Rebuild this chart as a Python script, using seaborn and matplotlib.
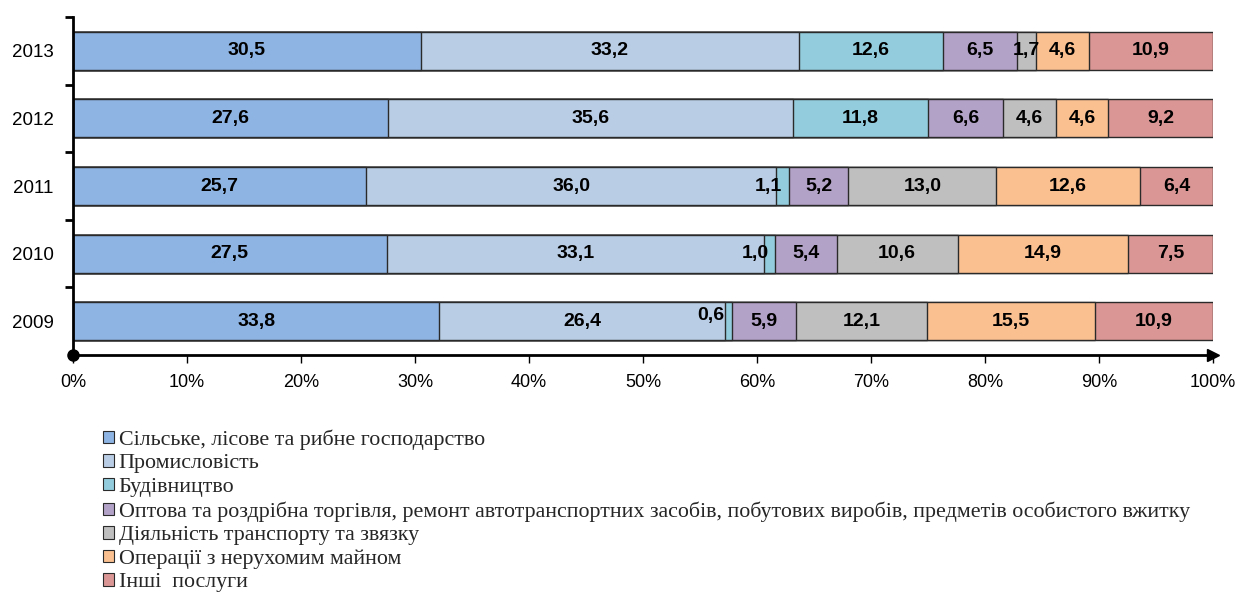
import numpy as np
import pandas as pd
import matplotlib
matplotlib.use("Agg")
import matplotlib.pyplot as plt
import seaborn as sns
from matplotlib.ticker import FixedLocator, PercentFormatter

years = ["2013", "2012", "2011", "2010", "2009"]
categories = [
    "Сільське, лісове та рибне господарство",
    "Промисловість",
    "Будівництво",
    "Оптова та роздрібна торгівля, ремонт автотранспортних засобів, побутових виробів, предметів особистого вжитку",
    "Діяльність транспорту та звязку",
    "Операції з нерухомим майном",
    "Інші  послуги",
]
agriculture = [30.5, 27.6, 25.7, 27.5, 33.8]
industry = [33.2, 35.6, 36.0, 33.1, 26.4]
construction = [12.6, 11.8, 1.1, 1.0, 0.6]
trade = [6.5, 6.6, 5.2, 5.4, 5.9]
transport = [1.7, 4.6, 13.0, 10.6, 12.1]
real_estate = [4.6, 4.6, 12.6, 14.9, 15.5]
other = [10.9, 9.2, 6.4, 7.5, 10.9]
series = [agriculture, industry, construction, trade, transport, real_estate, other]
colors = ["#8EB4E3", "#B9CDE5", "#93CDDD", "#B3A2C7", "#BFBFBF", "#FAC090", "#D99694"]

sns.set_theme(style="white")
plt.rcParams["font.family"] = ["Liberation Sans", "DejaVu Sans"]

vals = np.array(series, dtype=float)          # shape (cat, year)
totals = vals.sum(axis=0)
shares = vals / totals                          # 100% stacked
cum = np.cumsum(shares, axis=0)

fig = plt.figure(figsize=(12.4, 5.98), dpi=100)
ax = fig.add_axes([73 / 1240, 1 - 355 / 598, (1213 - 73) / 1240, (355 - 17) / 598])

# draw cumulative bars from the last category to the first
for i in range(len(categories) - 1, -1, -1):
    df = pd.DataFrame({"year": years, "cum": cum[i]})
    sns.barplot(data=df, x="cum", y="year", order=years, orient="h",
                color=colors[i], saturation=1, width=0.56,
                edgecolor="#2a2a2a", linewidth=1.0, ax=ax, label=categories[i])

if ax.get_legend() is not None:
    ax.get_legend().remove()

# value labels
LFS = 14
for i in range(len(categories)):
    for j, yr in enumerate(years):
        left = cum[i][j] - shares[i][j]
        right = cum[i][j]
        txt = f"{vals[i][j]:.1f}".replace(".", ",")
        if vals[i][j] < 1.5:
            if vals[i][j] < 0.8:
                ax.text(left - 0.001, j - 0.08, txt, ha="right", va="center",
                        fontsize=LFS, fontweight="bold", color="black")
            else:
                ax.text(right - 0.006, j, txt, ha="right", va="center",
                        fontsize=LFS, fontweight="bold", color="black")
        else:
            ax.text((left + right) / 2, j, txt, ha="center", va="center",
                    fontsize=LFS, fontweight="bold", color="black")

ax.set_xlim(0, 1)
ax.set_ylim(4.5, -0.5)
ax.set_xlabel("")
ax.set_ylabel("")
ax.xaxis.set_major_locator(FixedLocator(np.linspace(0, 1, 11)))
ax.xaxis.set_major_formatter(PercentFormatter(1.0, decimals=0))
ax.yaxis.set_minor_locator(FixedLocator([-0.5, 0.5, 1.5, 2.5, 3.5]))
ax.tick_params(axis="y", which="major", length=0, labelsize=13.5, pad=14, colors="black")
ax.tick_params(axis="y", which="minor", length=6, width=2, color="black", left=True)
ax.tick_params(axis="x", which="major", length=6, width=1, color="black",
               labelsize=13, bottom=True, direction="out", pad=8, labelcolor="black")
for s in ["top", "right"]:
    ax.spines[s].set_visible(False)
for s in ["left", "bottom"]:
    ax.spines[s].set_color("black")
    ax.spines[s].set_linewidth(2)
ax.plot([1.0], [4.5], marker=">", color="black", markersize=8, clip_on=False, zorder=5)
ax.plot([0.0], [4.5], marker="o", color="black", markersize=8, clip_on=False, zorder=5)

handles, labels = ax.get_legend_handles_labels()
order = {lab: k for k, lab in enumerate(categories)}
pairs = sorted(zip(handles, labels), key=lambda p: order[p[1]])
leg = fig.legend([p[0] for p in pairs], [p[1] for p in pairs],
                 loc="upper left", bbox_to_anchor=(88 / 1240, 1 - 414 / 598),
                 frameon=False, ncol=1, handlelength=0.5, handleheight=0.5,
                 handletextpad=0.2, labelspacing=0.2, borderaxespad=0.3,
                 prop={"family": ["Liberation Serif", "DejaVu Serif"], "size": 15.8})
for h in leg.legend_handles:
    h.set_edgecolor("#2a2a2a")
    h.set_linewidth(0.8)

fig.savefig("out.png", dpi=100)
